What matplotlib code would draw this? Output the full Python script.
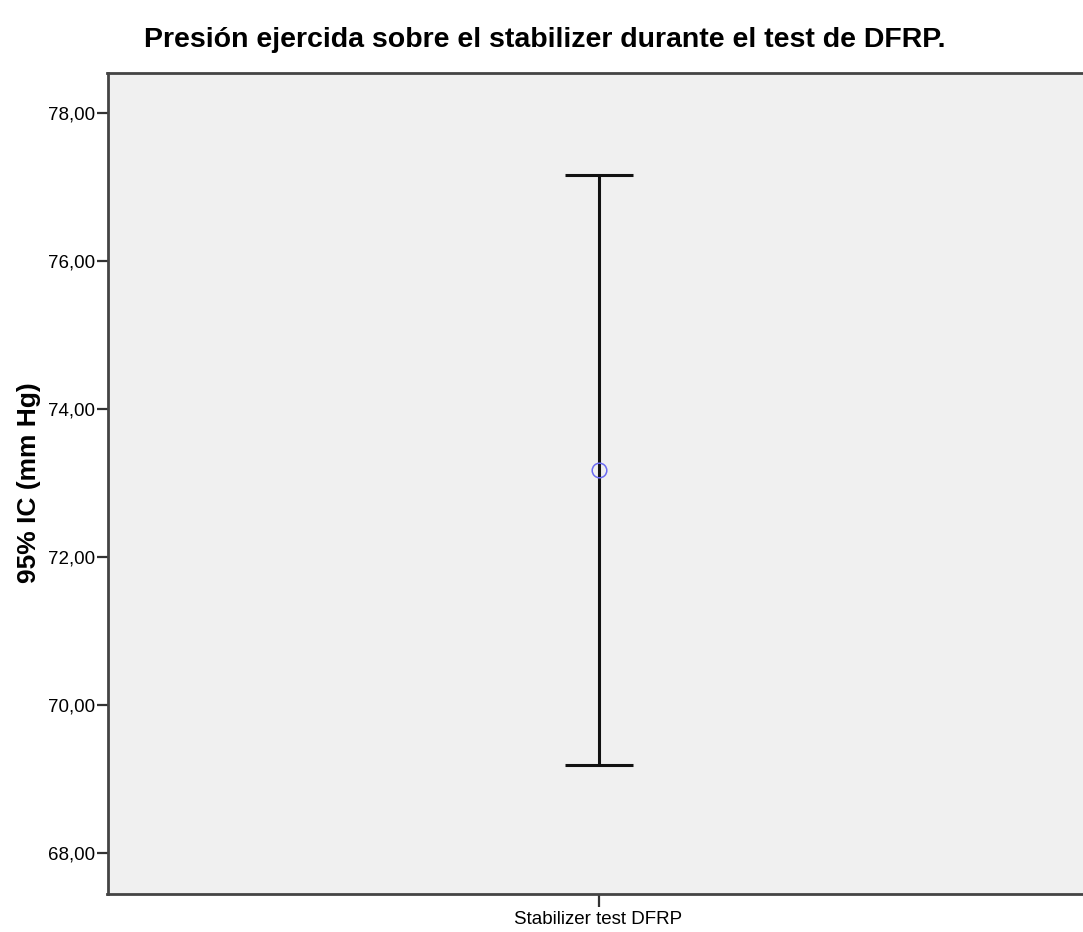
import matplotlib
matplotlib.use("Agg")
import matplotlib.pyplot as plt
from matplotlib.ticker import FuncFormatter

plt.rcParams['font.family'] = ['Liberation Sans', 'DejaVu Sans']

categories = ["Stabilizer test DFRP"]
means = [73.18]
ci_low = [69.20]
ci_high = [77.16]
y_ticks = [68, 70, 72, 74, 76, 78]

fig = plt.figure(figsize=(10.83, 9.32), dpi=100)
W, H = 1083, 932
left, right, top, bottom = 107.5, 1083, 73, 894
ax = fig.add_axes([left / W, 1 - bottom / H, (right - left) / W, (bottom - top) / H])
ax.set_facecolor('#F0F0F0')

x = list(range(len(categories)))
for i, xi in enumerate(x):
    ax.errorbar([xi], [means[i]],
                yerr=[[means[i] - ci_low[i]], [ci_high[i] - means[i]]],
                fmt='none', ecolor='#111111', elinewidth=2.2,
                capsize=24.5, capthick=2.2, zorder=2)
    ax.plot([xi], [means[i]], marker='o', markersize=10.5, markerfacecolor='none',
            markeredgecolor='#6A6AF2', markeredgewidth=1.1, linestyle='none', zorder=3)

ax.set_xlim(-1, (right - 598.5) / (598.5 - left))
ax.set_ylim(67.45, 78.545)
ax.set_xticks(x)
ax.set_xticklabels(categories, fontsize=13.5)
ax.set_yticks(y_ticks)
ax.yaxis.set_major_formatter(FuncFormatter(lambda v, p: f"{v:.2f}".replace('.', ',')))
ax.tick_params(axis='y', labelsize=13.5, length=8, width=1.6, color='#333333', pad=1)
ax.tick_params(axis='x', length=9, width=1.6, color='#333333', pad=3)

for s in ['left', 'bottom', 'top']:
    ax.spines[s].set_color('#444444')
    ax.spines[s].set_linewidth(2)
ax.spines['right'].set_visible(False)

ax.set_ylabel("95% IC (mm Hg)", fontsize=19, fontweight='bold', va='center')
ax.yaxis.set_label_coords((29 - left) / (right - left), (bottom - 482.5) / (bottom - top))
fig.text(545 / W, 1 - 40 / H, "Presión ejercida sobre el stabilizer durante el test de DFRP.",
         ha='center', va='center', fontsize=20.5, fontweight='bold')

fig.savefig("out.png", dpi=100)
